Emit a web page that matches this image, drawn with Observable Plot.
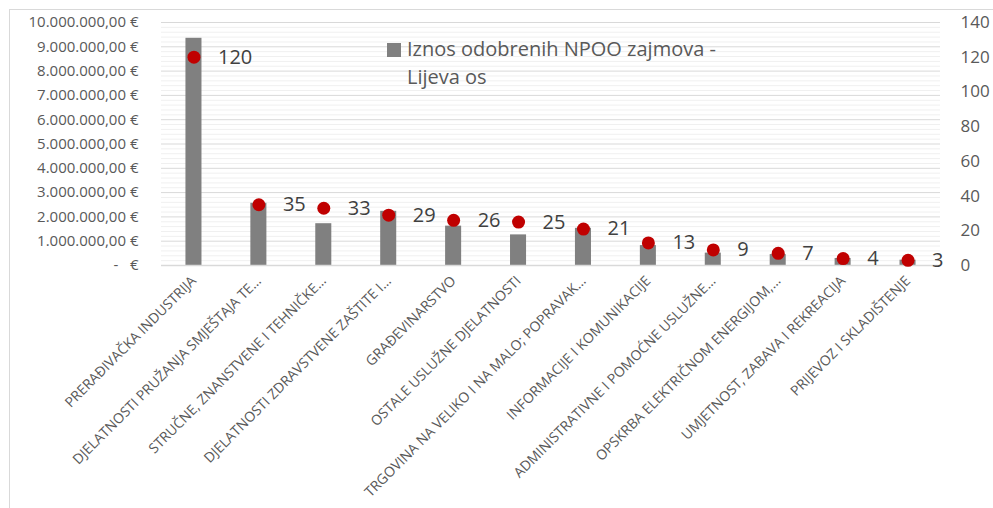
<!DOCTYPE html>
<html><head><meta charset="utf-8">
<script src="https://cdn.jsdelivr.net/npm/d3@7"></script>
<script src="https://cdn.jsdelivr.net/npm/@observablehq/plot@0.6"></script>
<style>
html,body{margin:0;padding:0;background:#fff;}
body{font-family:"Open Sans",sans-serif;width:993px;height:508px;overflow:hidden;position:relative;}
#frame{position:absolute;left:9px;top:9px;width:1000px;height:540px;border:1px solid #d9d9d9;box-sizing:border-box;}
#chart{position:absolute;left:0;top:0;}
#legend{position:absolute;left:387px;top:35px;font-size:20px;line-height:28px;color:#595959;}
#legend .sw{position:absolute;left:0;top:8px;width:14px;height:14px;background:#808080;}
#legend .tx{position:absolute;left:20px;top:0;white-space:nowrap;}
</style></head><body>
<div id="frame"></div>
<div id="chart"></div>
<div id="legend"><span class="sw"></span><span class="tx"></span></div>
<script>
const categories = [
  "PRERAĐIVAČKA INDUSTRIJA",
  "DJELATNOSTI PRUŽANJA SMJEŠTAJA TE…",
  "STRUČNE, ZNANSTVENE I TEHNIČKE…",
  "DJELATNOSTI ZDRAVSTVENE ZAŠTITE I…",
  "GRAĐEVINARSTVO",
  "OSTALE USLUŽNE DJELATNOSTI",
  "TRGOVINA NA VELIKO I NA MALO; POPRAVAK…",
  "INFORMACIJE I KOMUNIKACIJE",
  "ADMINISTRATIVNE I POMOĆNE USLUŽNE…",
  "OPSKRBA ELEKTRIČNOM ENERGIJOM,…",
  "UMJETNOST, ZABAVA I REKREACIJA",
  "PRIJEVOZ I SKLADIŠTENJE"
];
const amounts = [9350000, 2560000, 1720000, 2230000, 1620000, 1260000, 1530000, 820000, 510000, 450000, 290000, 220000];
const counts = [120, 35, 33, 29, 26, 25, 21, 13, 9, 7, 4, 3];
const leftTicks = [0, 1000000, 2000000, 3000000, 4000000, 5000000, 6000000, 7000000, 8000000, 9000000, 10000000];
const rightTicks = [0, 20, 40, 60, 80, 100, 120, 140];
const legendLines = ["Iznos odobrenih NPOO zajmova -", "Lijeva os"];

const yMax = 10000000, rMax = 140, k = yMax / rMax;
const minorTicks = d3.range(0, yMax + 1, 200000).filter(v => v % 1000000 !== 0);
const rows = categories.map((c, i) => ({cat: c, amount: amounts[i], count: counts[i], yc: counts[i] * k}));

function fmtEUR(v) {
  if (v === 0) return "-\u00a0\u00a0\u00a0€";
  const s = d3.format(",.2f")(v);
  return s.replace(/,/g, "#").replace(/\./g, ",").replace(/#/g, ".") + " €";
}

const chart = Plot.plot({
  width: 993,
  height: 508,
  marginLeft: 161,
  marginRight: 53,
  marginTop: 22,
  marginBottom: 243,
  style: {fontFamily: "'Open Sans', sans-serif", background: "transparent", overflow: "visible"},
  x: {domain: categories, paddingInner: 0.753, paddingOuter: 0.3765, round: false, label: null},
  y: {domain: [0, yMax], label: null},
  marks: [
    Plot.ruleY(minorTicks, {stroke: "#f0f0f0", strokeWidth: 1}),
    Plot.ruleY(leftTicks.slice(1), {stroke: "#d9d9d9", strokeWidth: 1}),
    Plot.barY(rows, {x: "cat", y: "amount", fill: "#808080"}),
    Plot.ruleY([0], {stroke: "#d9d9d9", strokeWidth: 1.5}),
    Plot.dot(rows, {x: "cat", y: "yc", r: 6.5, fill: "#c00000", stroke: "none"}),
    Plot.text(rows, {x: "cat", y: "yc", text: d => String(d.count), dx: 24, textAnchor: "start", fontSize: 20, fill: "#404040"}),
    Plot.axisY(leftTicks, {anchor: "left", tickSize: 0, tickPadding: 23, tickFormat: fmtEUR, fontSize: 15, fill: "#595959", label: null}),
    Plot.axisY(rightTicks.map(v => v * k), {anchor: "right", tickSize: 0, tickPadding: 20, tickFormat: d => String(Math.round(d / k)), fontSize: 17, fill: "#595959", label: null}),
    Plot.axisX({tickSize: 0, tickPadding: 13, tickRotate: -45, fontSize: 14, fill: "#595959", label: null})
  ]
});
document.getElementById("chart").appendChild(chart);
document.querySelector("#legend .tx").innerHTML = legendLines.join("<br>");
</script>
</body></html>
